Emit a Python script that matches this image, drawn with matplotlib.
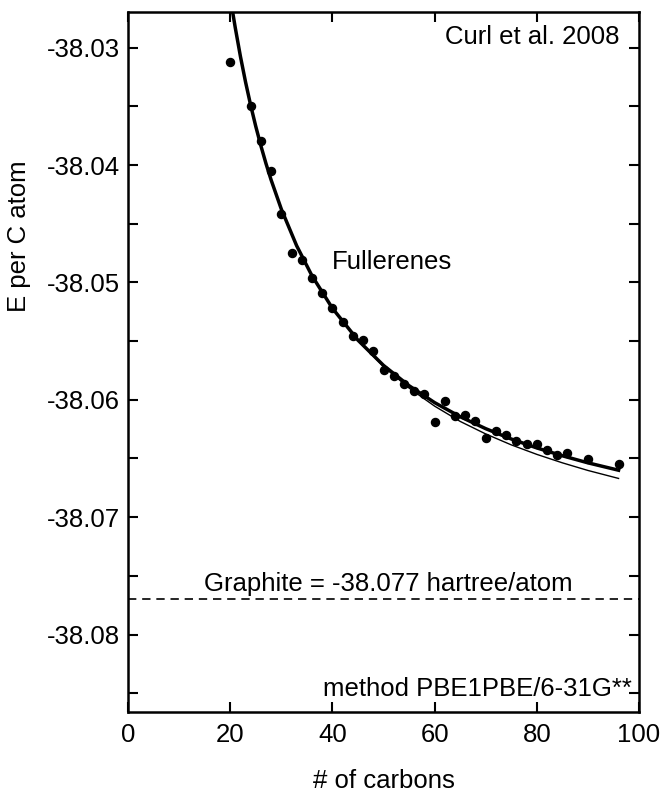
import matplotlib
matplotlib.use("Agg")
import matplotlib.pyplot as plt
from matplotlib.ticker import MultipleLocator, FormatStrFormatter

plt.rcParams['font.family'] = ['Liberation Sans', 'DejaVu Sans']

# Data points (number of carbons, energy per C atom in hartree)
n_carbons = [20, 24, 26, 28, 30, 32, 34, 36, 38, 40, 42, 44, 46, 48, 50, 52, 54,
             56, 58, 60, 62, 64, 66, 68, 70, 72, 74, 76, 78, 80, 82, 84, 86, 90, 96]
energy = [-38.03125, -38.03494, -38.03798, -38.04048, -38.04417, -38.04752,
          -38.04808, -38.04962, -38.05093, -38.05217, -38.05340, -38.05453,
          -38.05490, -38.05581, -38.05745, -38.05794, -38.05865, -38.05928,
          -38.05950, -38.06192, -38.06013, -38.06135, -38.06126, -38.06183,
          -38.06325, -38.06263, -38.06300, -38.06354, -38.06376, -38.06376,
          -38.06425, -38.06467, -38.06453, -38.06504, -38.06547]

# Thick fit curve
fit1_x = [20.5, 21, 22, 23, 24, 25, 26, 27, 28, 30, 33, 36, 40, 45, 50, 55, 60,
          65, 70, 75, 80, 85, 90, 96]
fit1_y = [-38.02702, -38.02832, -38.03074, -38.03292, -38.03490, -38.03670,
          -38.03835, -38.03987, -38.04126, -38.04375, -38.04687, -38.04943,
          -38.05220, -38.05492, -38.05707, -38.05880, -38.06024, -38.06144,
          -38.06246, -38.06334, -38.06410, -38.06477, -38.06537, -38.06600]

# Thin fit curve
fit2_x = [21, 22, 23, 24, 26, 28, 30, 33, 36, 40, 45, 50, 55, 60, 65, 70, 75,
          80, 85, 90, 96]
fit2_y = [-38.02832, -38.03074, -38.03292, -38.03490, -38.03835, -38.04126,
          -38.04375, -38.04687, -38.04943, -38.05220, -38.05494, -38.05717,
          -38.05900, -38.06054, -38.06184, -38.06291, -38.06384, -38.06465,
          -38.06537, -38.06602, -38.06670]

graphite = -38.077

FS = 18.5

fig = plt.figure(figsize=(6.64, 7.92), dpi=100)
ax = fig.add_axes([128/664, 1-712/792, (639-128)/664, (712-12)/792])

ax.plot(fit2_x, fit2_y, color='black', lw=1.0, zorder=2)
ax.plot(fit1_x, fit1_y, color='black', lw=2.5, zorder=3)
ax.plot(n_carbons, energy, 'o', color='black', ms=5.8, zorder=4)
ax.axhline(graphite, color='black', lw=1.2, ls=(0, (5, 3.5)))

ax.set_xlim(0, 100)
ax.set_ylim(-38.0866, -38.02696)
ax.xaxis.set_major_locator(MultipleLocator(20))
ax.yaxis.set_major_locator(MultipleLocator(0.01))
ax.yaxis.set_minor_locator(MultipleLocator(0.005))
ax.yaxis.set_major_formatter(FormatStrFormatter('%.2f'))

ax.tick_params(axis='both', which='both', direction='in', top=True, right=True,
               length=7, width=1.5, labelsize=FS)
ax.tick_params(axis='y', pad=6)
ax.tick_params(axis='x', pad=8)
for s in ax.spines.values():
    s.set_linewidth(1.8)

ax.set_xlabel('# of carbons', fontsize=FS, labelpad=16)
ax.set_ylabel('E per C atom', fontsize=FS)
ax.yaxis.set_label_coords(-0.19, 0.68)

ax.text(51.7, -38.0483, 'Fullerenes', fontsize=FS, ha='center', va='center')
ax.text(0.962, 0.965, 'Curl et al. 2008', fontsize=FS, ha='right', va='center',
        transform=ax.transAxes)
ax.text(0.51, -38.0757, 'Graphite = -38.077 hartree/atom', fontsize=FS,
        ha='center', va='center', transform=ax.get_yaxis_transform())
ax.text(0.987, -38.0846, 'method PBE1PBE/6-31G**', fontsize=FS, ha='right',
        va='center', transform=ax.get_yaxis_transform())

fig.savefig('out.png', dpi=100)
